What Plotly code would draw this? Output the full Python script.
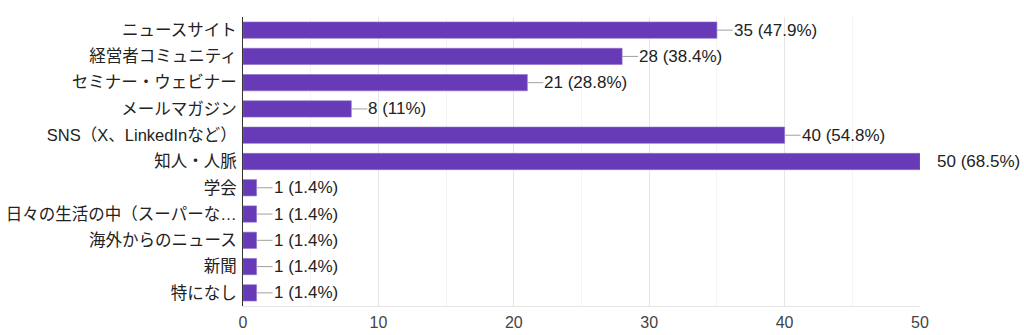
import plotly.graph_objects as go

categories = ["ニュースサイト", "経営者コミュニティ", "セミナー・ウェビナー", "メールマガジン",
              "SNS（X、LinkedInなど）", "知人・人脈", "学会", "日々の生活の中（スーパーな…",
              "海外からのニュース", "新聞", "特になし"]
counts = [35, 28, 21, 8, 40, 50, 1, 1, 1, 1, 1]
percents = ["47.9%", "38.4%", "28.8%", "11%", "54.8%", "68.5%", "1.4%", "1.4%", "1.4%", "1.4%", "1.4%"]
x_ticks = [0, 10, 20, 30, 40, 50]

FONT = "Liberation Sans, Arial, Noto Sans CJK JP, sans-serif"
X_MAX = 50

fig = go.Figure()
fig.add_trace(go.Bar(
    y=categories, x=counts, orientation="h",
    marker=dict(color="#673ab7", line=dict(color="#8e6bcc", width=0.6)),
    width=0.62, hoverinfo="skip",
))

for c, v, p in zip(categories, counts, percents):
    at_edge = v >= X_MAX
    fig.add_annotation(
        x=v, y=c, xref="x", yref="y",
        text=f"{v} ({p})", showarrow=not at_edge, arrowhead=0, arrowwidth=1,
        arrowcolor="#a0a0a0", ax=16, ay=0, xanchor="left", yanchor="middle",
        xshift=16 if at_edge else 0,
        font=dict(family=FONT, size=17, color="#222222"),
        borderpad=0, standoff=0, startstandoff=0,
    )

fig.update_layout(
    width=1024, height=335,
    margin=dict(l=243, r=104, t=17, b=29, autoexpand=False),
    paper_bgcolor="white", plot_bgcolor="white",
    showlegend=False,
    font=dict(family=FONT, size=16, color="#222222"),
)
fig.update_xaxes(
    range=[0, X_MAX], tickvals=x_ticks, ticktext=[str(t) for t in x_ticks],
    showgrid=True, gridcolor="#e6e6e6", gridwidth=1,
    minor=dict(dtick=5, showgrid=True, gridcolor="#f4f4f4", gridwidth=1),
    zeroline=False, showline=True, linecolor="#e6e6e6", linewidth=1,
    tickfont=dict(family=FONT, size=16, color="#444444"),
    ticks="", ticklabelstandoff=2, automargin=False,
)
fig.update_yaxes(
    autorange="reversed", showline=True, linecolor="#333333", linewidth=1,
    showgrid=False, zeroline=False, ticks="",
    tickfont=dict(family=FONT, size=16.5, color="#222222"),
    ticklabelstandoff=2, automargin=False,
)

fig.write_html("out.html")
